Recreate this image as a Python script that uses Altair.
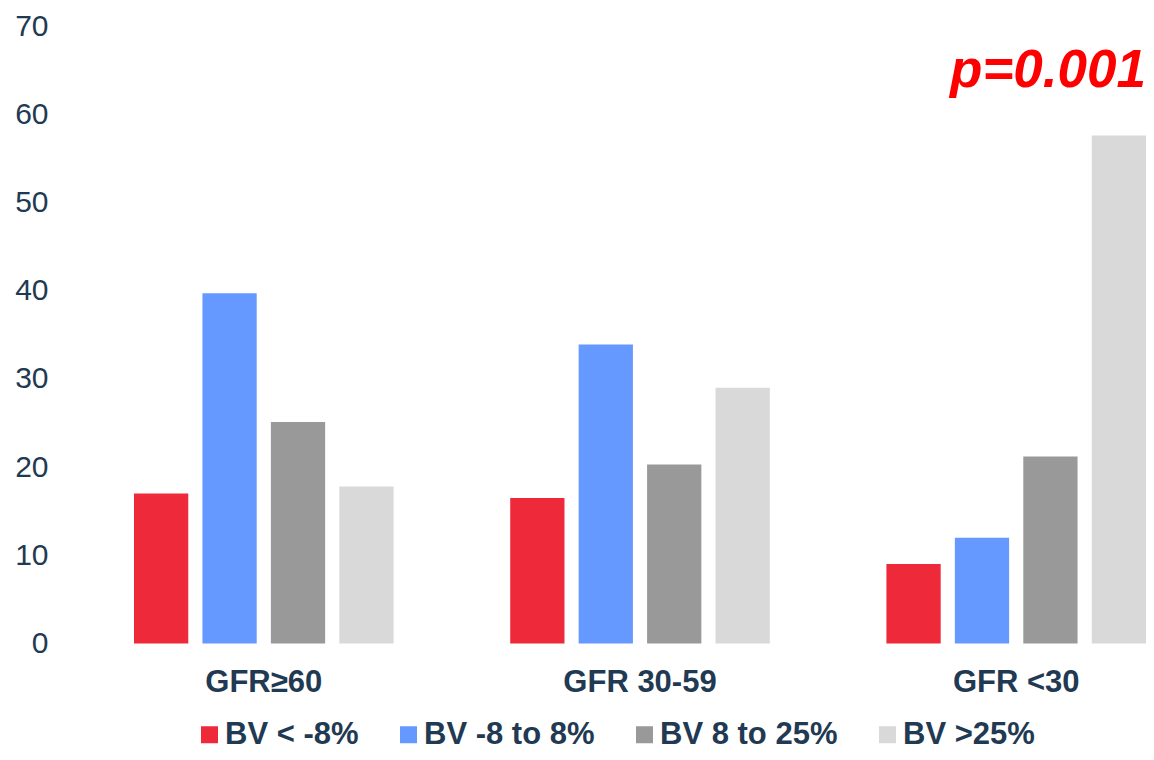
import altair as alt
import pandas as pd

groups = ["GFR≥60", "GFR 30-59", "GFR <30"]
series = ["BV < -8%", "BV -8 to 8%", "BV 8 to 25%", "BV >25%"]
colors = ["#EE2A3A", "#6699FF", "#999999", "#D9D9D9"]

v_lt_m8 = [17.0, 16.5, 9.0]
v_m8_8 = [39.7, 33.9, 12.0]
v_8_25 = [25.1, 20.3, 21.2]
v_gt25 = [17.8, 29.0, 57.6]

y_ticks = [0, 10, 20, 30, 40, 50, 60, 70]
annotation = "p=0.001"

rows = []
for s, vals in zip(series, [v_lt_m8, v_m8_8, v_8_25, v_gt25]):
    for g, v in zip(groups, vals):
        rows.append({"group": g, "series": s, "value": v})
df = pd.DataFrame(rows)

FONT = "Liberation Sans"
TXT = "#1F3A52"
W = 1012
H = 617.5

bars = alt.Chart(df).mark_bar().encode(
    x=alt.X("group:N", sort=groups, title=None,
            scale=alt.Scale(paddingInner=0.31, paddingOuter=0),
            axis=alt.Axis(labelAngle=0, labelFontSize=31, labelFontWeight="bold",
                          labelColor=TXT, labelFont=FONT, ticks=False, domain=False,
                          labelPadding=24)),
    xOffset=alt.XOffset("series:N", sort=series,
                        scale=alt.Scale(paddingInner=0.207, paddingOuter=0)),
    y=alt.Y("value:Q", title=None,
            scale=alt.Scale(domain=[0, 70], nice=False),
            axis=alt.Axis(values=y_ticks, grid=False, ticks=False, domain=False,
                          labelFontSize=30, labelColor=TXT, labelFont=FONT,
                          labelPadding=86)),
    color=alt.Color("series:N", sort=series,
                    scale=alt.Scale(domain=series, range=colors),
                    legend=alt.Legend(orient="none", direction="horizontal",
                                      legendX=60, legendY=693, title=None,
                                      symbolType="square", symbolSize=289,
                                      symbolStrokeWidth=0, symbolOpacity=1,
                                      labelFontSize=31, labelFontWeight="bold",
                                      labelColor=TXT, labelFont=FONT, labelLimit=0,
                                      columnPadding=34, labelOffset=0, padding=0)),
)

text = alt.Chart(pd.DataFrame({"t": [annotation]})).mark_text(
    align="right", baseline="alphabetic", fontSize=53, fontWeight="bold",
    fontStyle="italic", color="#FF0000", font=FONT
).encode(x=alt.value(W), y=alt.value(61), text="t:N")

chart = alt.layer(bars, text).properties(
    width=W, height=H,
    autosize=alt.AutoSizeParams(type="none"),
    padding={"left": 126, "top": 18, "right": 0, "bottom": 108.5},
    background="white",
).configure_view(stroke=None)

chart.save("out.html", embed_options={"renderer": "svg", "actions": False})
